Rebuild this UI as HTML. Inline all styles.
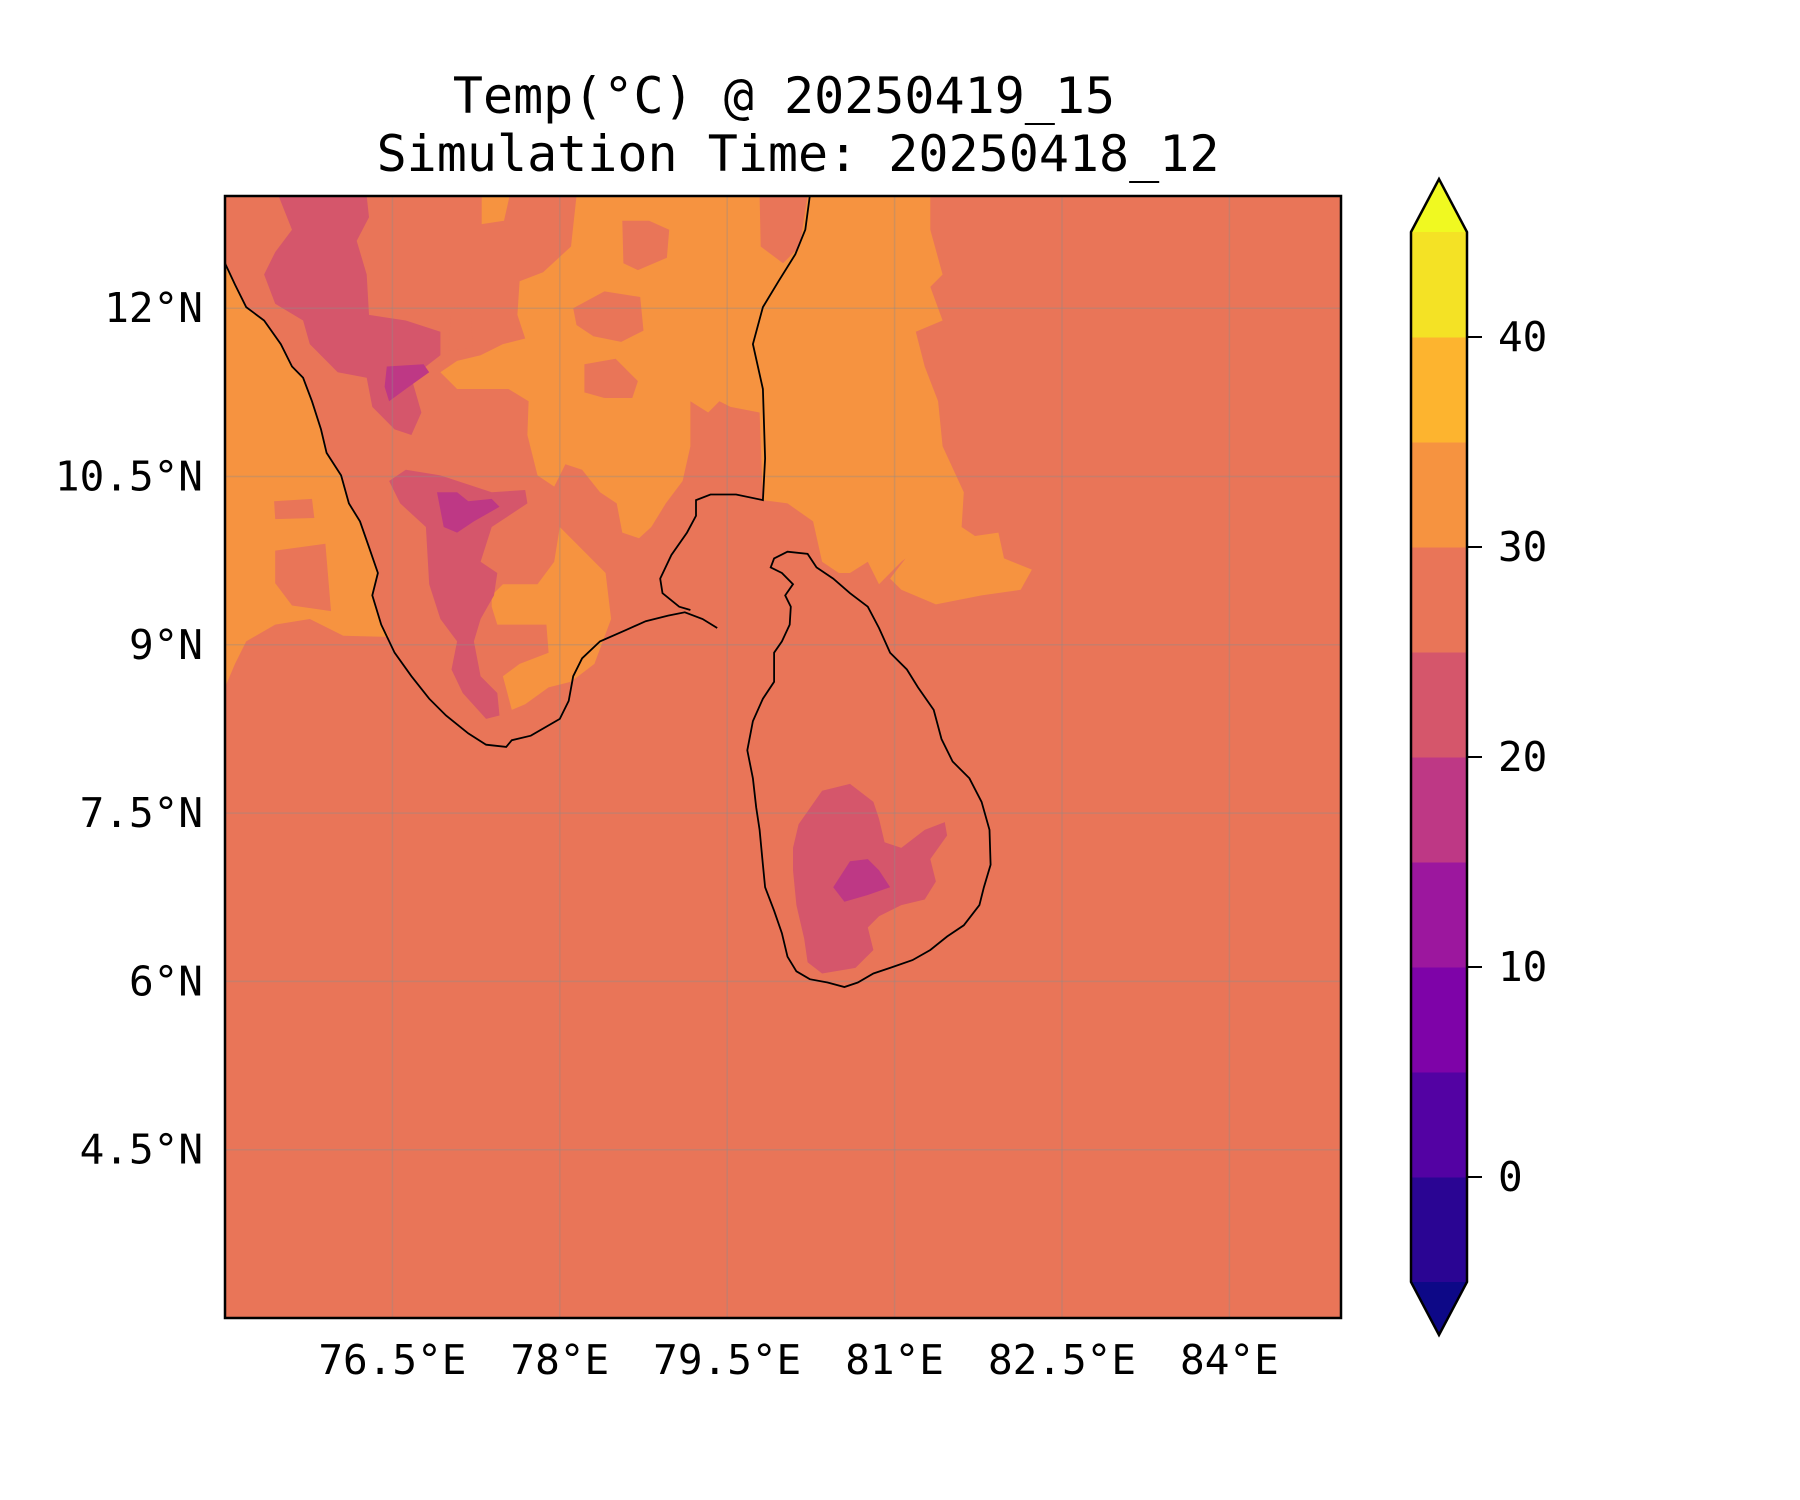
<!DOCTYPE html>
<html><head><meta charset="utf-8"><style>
html,body{margin:0;padding:0;background:#fff;}
svg{display:block;font-family:"DejaVu Sans Mono","Liberation Mono",monospace;}
</style></head><body>
<svg id="fig" width="1800" height="1500" viewBox="0 0 1800 1500" xmlns="http://www.w3.org/2000/svg">
<text x="784" y="113" font-size="50" text-anchor="middle">Temp(°C) @ 20250419_15</text>
<text x="798" y="171" font-size="50" text-anchor="middle">Simulation Time: 20250418_12</text>
<g id="map"></g>
<g id="cbar"></g>
</svg>
<script>
const lonTicks=[76.5,78,79.5,81,82.5,84];
const lonLabels=["76.5°E","78°E","79.5°E","81°E","82.5°E","84°E"];
const latTicks=[12,10.5,9,7.5,6,4.5];
const latLabels=["12°N","10.5°N","9°N","7.5°N","6°N","4.5°N"];
const levels=[-5,0,5,10,15,20,25,30,35,40,45];
const levelColors=["#2a0593","#5302a3","#7e03a8","#9c179e","#be3885","#d5566b","#e97558","#f69340","#fdb42f","#f4e225"];
const underColor="#0d0887", overColor="#f0f921";
const cbarTicks=[0,10,20,30,40];

const westCoast=[[75.00,12.40],[75.09,12.21],[75.19,12.01],[75.35,11.89],[75.50,11.68],[75.60,11.48],[75.70,11.38],[75.78,11.17],[75.86,10.92],[75.91,10.71],[76.04,10.51],[76.11,10.26],[76.21,10.10],[76.29,9.87],[76.37,9.64],[76.32,9.44],[76.40,9.18],[76.52,8.93],[76.67,8.72],[76.83,8.52],[76.98,8.37],[77.18,8.21],[77.34,8.11],[77.52,8.09],[77.57,8.15],[77.74,8.19],[78.00,8.34],[78.08,8.50],[78.12,8.72],[78.20,8.88],[78.36,9.03],[78.59,9.13],[78.77,9.21],[78.97,9.26],[79.12,9.29],[79.28,9.23],[79.41,9.15]];
const eastCoast=[[79.17,9.31],[79.07,9.34],[78.92,9.46],[78.90,9.59],[79.00,9.80],[79.14,10.00],[79.22,10.15],[79.22,10.29],[79.35,10.34],[79.58,10.34],[79.82,10.29],[79.84,10.66],[79.82,11.28],[79.73,11.68],[79.82,12.01],[79.96,12.24],[80.11,12.48],[80.20,12.70],[80.24,13.00]];
const sriLanka=[[79.92,9.77],[80.04,9.83],[80.22,9.81],[80.30,9.69],[80.45,9.59],[80.60,9.46],[80.76,9.34],[80.86,9.15],[80.96,8.93],[81.11,8.78],[81.21,8.62],[81.35,8.42],[81.42,8.16],[81.52,7.96],[81.67,7.81],[81.78,7.60],[81.85,7.35],[81.86,7.04],[81.80,6.84],[81.76,6.68],[81.62,6.50],[81.47,6.40],[81.32,6.28],[81.16,6.19],[80.96,6.12],[80.81,6.07],[80.67,5.99],[80.55,5.95],[80.40,5.99],[80.24,6.02],[80.12,6.09],[80.04,6.22],[79.99,6.43],[79.92,6.63],[79.84,6.84],[79.82,7.04],[79.79,7.35],[79.76,7.55],[79.73,7.81],[79.68,8.06],[79.73,8.32],[79.82,8.52],[79.92,8.67],[79.92,8.93],[79.99,9.03],[80.06,9.18],[80.07,9.34],[80.02,9.44],[80.09,9.54],[79.99,9.64],[79.89,9.69]];

const orangeWest=westCoast.slice(0,17).concat([[76.47,9.07],[76.06,9.08],[75.76,9.23],[75.45,9.18],[75.19,9.03],[75.09,8.83],[75.00,8.62]]);
const orangeNE=[[78.15,13.00],[81.32,13.00],[81.32,12.70],[81.43,12.30],[81.32,12.19],[81.43,11.89],[81.19,11.79],[81.27,11.48],[81.39,11.17],[81.43,10.77],[81.62,10.36],[81.60,10.05],[81.72,9.97],[81.93,10.00],[81.98,9.77],[82.23,9.67],[82.13,9.49],[81.78,9.44],[81.37,9.36],[81.06,9.49],[80.96,9.59],[81.16,9.85],[81.27,9.90],[81.06,9.74],[80.86,9.54],[80.76,9.74],[80.60,9.64],[80.50,9.64],[80.35,9.74],[80.27,10.10],[80.04,10.26],[79.82,10.29],[79.79,11.07],[79.53,11.12],[79.43,11.17],[79.33,11.07],[79.17,11.17],[79.17,10.77],[79.10,10.46],[78.95,10.26],[78.82,10.05],[78.71,9.95],[78.56,10.00],[78.51,10.26],[78.36,10.36],[78.20,10.56],[78.05,10.61],[77.95,10.41],[77.80,10.51],[77.71,10.87],[77.72,11.17],[77.54,11.28],[77.08,11.28],[76.93,11.43],[77.08,11.53],[77.29,11.58],[77.49,11.68],[77.69,11.73],[77.62,11.94],[77.64,12.24],[77.85,12.32],[78.10,12.55]];
const orangeSouth=[[77.39,9.44],[77.49,9.54],[77.80,9.54],[77.95,9.74],[78.00,10.05],[78.10,9.95],[78.31,9.74],[78.41,9.64],[78.46,9.23],[78.31,8.83],[78.10,8.67],[77.90,8.62],[77.69,8.47],[77.57,8.42],[77.49,8.72],[77.64,8.83],[77.90,8.93],[77.88,9.18],[77.69,9.18],[77.44,9.18],[77.39,9.34]];
const orangeTopBlob=[[77.30,13.0],[77.55,13.0],[77.50,12.78],[77.30,12.75]];
const coralBlobs=[
 [[78.56,12.78],[78.80,12.78],[78.98,12.70],[78.96,12.45],[78.70,12.34],[78.57,12.40]],
 [[78.12,12.00],[78.40,12.15],[78.72,12.10],[78.75,11.80],[78.55,11.70],[78.30,11.75],[78.15,11.85]],
 [[78.22,11.50],[78.50,11.55],[78.70,11.35],[78.65,11.20],[78.40,11.20],[78.22,11.25]],
 [[79.79,13.0],[80.22,13.0],[80.15,12.55],[80.00,12.40],[79.80,12.55]],
 [[77.03,12.00],[77.20,12.02],[77.22,11.65],[77.00,11.62]],
 [[75.44,10.28],[75.78,10.30],[75.80,10.13],[75.45,10.12]],
 [[75.45,9.84],[75.90,9.90],[75.95,9.30],[75.60,9.35],[75.45,9.55]]];
const pinkRegions=[
 [[75.48,13.00],[76.27,13.00],[76.29,12.81],[76.18,12.60],[76.27,12.30],[76.29,11.94],[76.62,11.89],[76.93,11.79],[76.93,11.58],[76.67,11.38],[76.76,11.07],[76.67,10.87],[76.52,10.92],[76.32,11.12],[76.27,11.38],[76.01,11.43],[75.76,11.68],[75.70,11.89],[75.45,12.04],[75.35,12.30],[75.45,12.50],[75.60,12.70]],
 [[76.47,10.46],[76.62,10.56],[76.93,10.51],[77.39,10.36],[77.69,10.38],[77.71,10.26],[77.39,10.05],[77.29,9.74],[77.44,9.64],[77.41,9.44],[77.29,9.23],[77.23,9.03],[77.29,8.72],[77.44,8.57],[77.46,8.37],[77.34,8.34],[77.13,8.57],[77.03,8.78],[77.08,9.03],[76.93,9.23],[76.83,9.54],[76.80,10.05],[76.57,10.26]],
 [[80.14,7.40],[80.35,7.70],[80.60,7.76],[80.81,7.60],[80.86,7.45],[80.91,7.24],[81.06,7.19],[81.27,7.35],[81.45,7.42],[81.47,7.30],[81.32,7.09],[81.37,6.89],[81.27,6.73],[81.06,6.68],[80.86,6.58],[80.76,6.48],[80.81,6.28],[80.65,6.12],[80.35,6.07],[80.22,6.17],[80.19,6.38],[80.12,6.68],[80.09,6.99],[80.09,7.19]]];
const magentaRegions=[
 [[76.45,11.48],[76.78,11.50],[76.83,11.43],[76.62,11.28],[76.47,11.17],[76.43,11.30]],
 [[76.90,10.36],[77.08,10.36],[77.18,10.28],[77.39,10.30],[77.46,10.23],[77.23,10.10],[77.08,10.00],[76.96,10.05]],
 [[80.45,6.84],[80.60,7.07],[80.76,7.09],[80.86,6.99],[80.96,6.84],[80.76,6.77],[80.55,6.71]]];

const NS="http://www.w3.org/2000/svg";
const X0=225,X1=1341,Y0=196,Y1=1318,LON0=75,LON1=85,LAT0=3,LAT1=13;
function xs(lon){return X0+(lon-LON0)/(LON1-LON0)*(X1-X0);}
function ys(lat){return Y0+(LAT1-lat)/(LAT1-LAT0)*(Y1-Y0);}
function cy(v){return 232+(45-v)/50*(1282-232);}
function mk(tag,attrs,parent){const e=document.createElementNS(NS,tag);for(const k in attrs)e.setAttribute(k,attrs[k]);parent.appendChild(e);return e;}
function pts(a){return a.map(p=>xs(p[0]).toFixed(1)+","+ys(p[1]).toFixed(1)).join(" ");}
const map=document.getElementById('map');
const cp=mk('clipPath',{id:'clip'},map);mk('rect',{x:X0,y:Y0,width:X1-X0,height:Y1-Y0},cp);
const g=mk('g',{'clip-path':'url(#clip)'},map);
let bg=mk('rect',{x:X0,y:Y0,width:X1-X0,height:Y1-Y0,fill:levelColors[6]},g);


function poly(a,fill,name){const e=mk('polygon',{points:pts(a),fill:fill},g);

}
poly(orangeWest,levelColors[7],'contour-30-35-west');
poly(orangeNE,levelColors[7],'contour-30-35-northeast');
poly(orangeSouth,levelColors[7],'contour-30-35-south');
poly(orangeTopBlob,levelColors[7],'contour-30-35-blob');
coralBlobs.forEach(b=>poly(b,levelColors[6],'contour-25-30-patch'));
pinkRegions.forEach(b=>poly(b,levelColors[5],'contour-20-25'));
magentaRegions.forEach(b=>poly(b,levelColors[4],'contour-15-20'));
lonTicks.forEach(v=>{const l=mk('line',{x1:xs(v),x2:xs(v),y1:Y0,y2:Y1,stroke:'rgba(140,140,140,0.35)','stroke-width':1.5},g);

});
latTicks.forEach(v=>{const l=mk('line',{x1:X0,x2:X1,y1:ys(v),y2:ys(v),stroke:'rgba(140,140,140,0.35)','stroke-width':1.5},g);

});
[westCoast,eastCoast].forEach(c=>{const e=mk('polyline',{points:pts(c),fill:'none',stroke:'#000','stroke-width':1.8},g);

});
let sl=mk('polygon',{points:pts(sriLanka),fill:'none',stroke:'#000','stroke-width':1.8},g);


let fr=mk('rect',{x:X0,y:Y0,width:X1-X0,height:Y1-Y0,fill:'none',stroke:'#000','stroke-width':2.5},map);


lonTicks.forEach((v,i)=>{const t=mk('text',{x:xs(v),y:1374,'font-size':41,'text-anchor':'middle'},map);t.textContent=lonLabels[i];

});
latTicks.forEach((v,i)=>{const t=mk('text',{x:203,y:ys(v)+14,'font-size':41,'text-anchor':'end'},map);t.textContent=latLabels[i];

});
const cb=document.getElementById('cbar');
const CX0=1411,CX1=1467,CM=(CX0+CX1)/2;
for(let i=0;i<levelColors.length;i++){const r=mk('rect',{x:CX0,y:cy(levels[i+1]),width:CX1-CX0,height:cy(levels[i])-cy(levels[i+1])+0.5,fill:levelColors[i]},cb);

}
let ov=mk('polygon',{points:`${CX0},232 ${CM},179 ${CX1},232`,fill:overColor},cb);


let un=mk('polygon',{points:`${CX0},1282 ${CM},1335 ${CX1},1282`,fill:underColor},cb);


let ol=mk('polygon',{points:`${CX0},232 ${CM},179 ${CX1},232 ${CX1},1282 ${CM},1335 ${CX0},1282`,fill:'none',stroke:'#000','stroke-width':2.5},cb);


cbarTicks.forEach(v=>{const tk=mk('line',{x1:CX1,x2:CX1+15,y1:cy(v),y2:cy(v),stroke:'#000','stroke-width':2},cb);


const t=mk('text',{x:1498,y:cy(v)+14,'font-size':41},cb);t.textContent=v;

});
</script>
</body></html>
